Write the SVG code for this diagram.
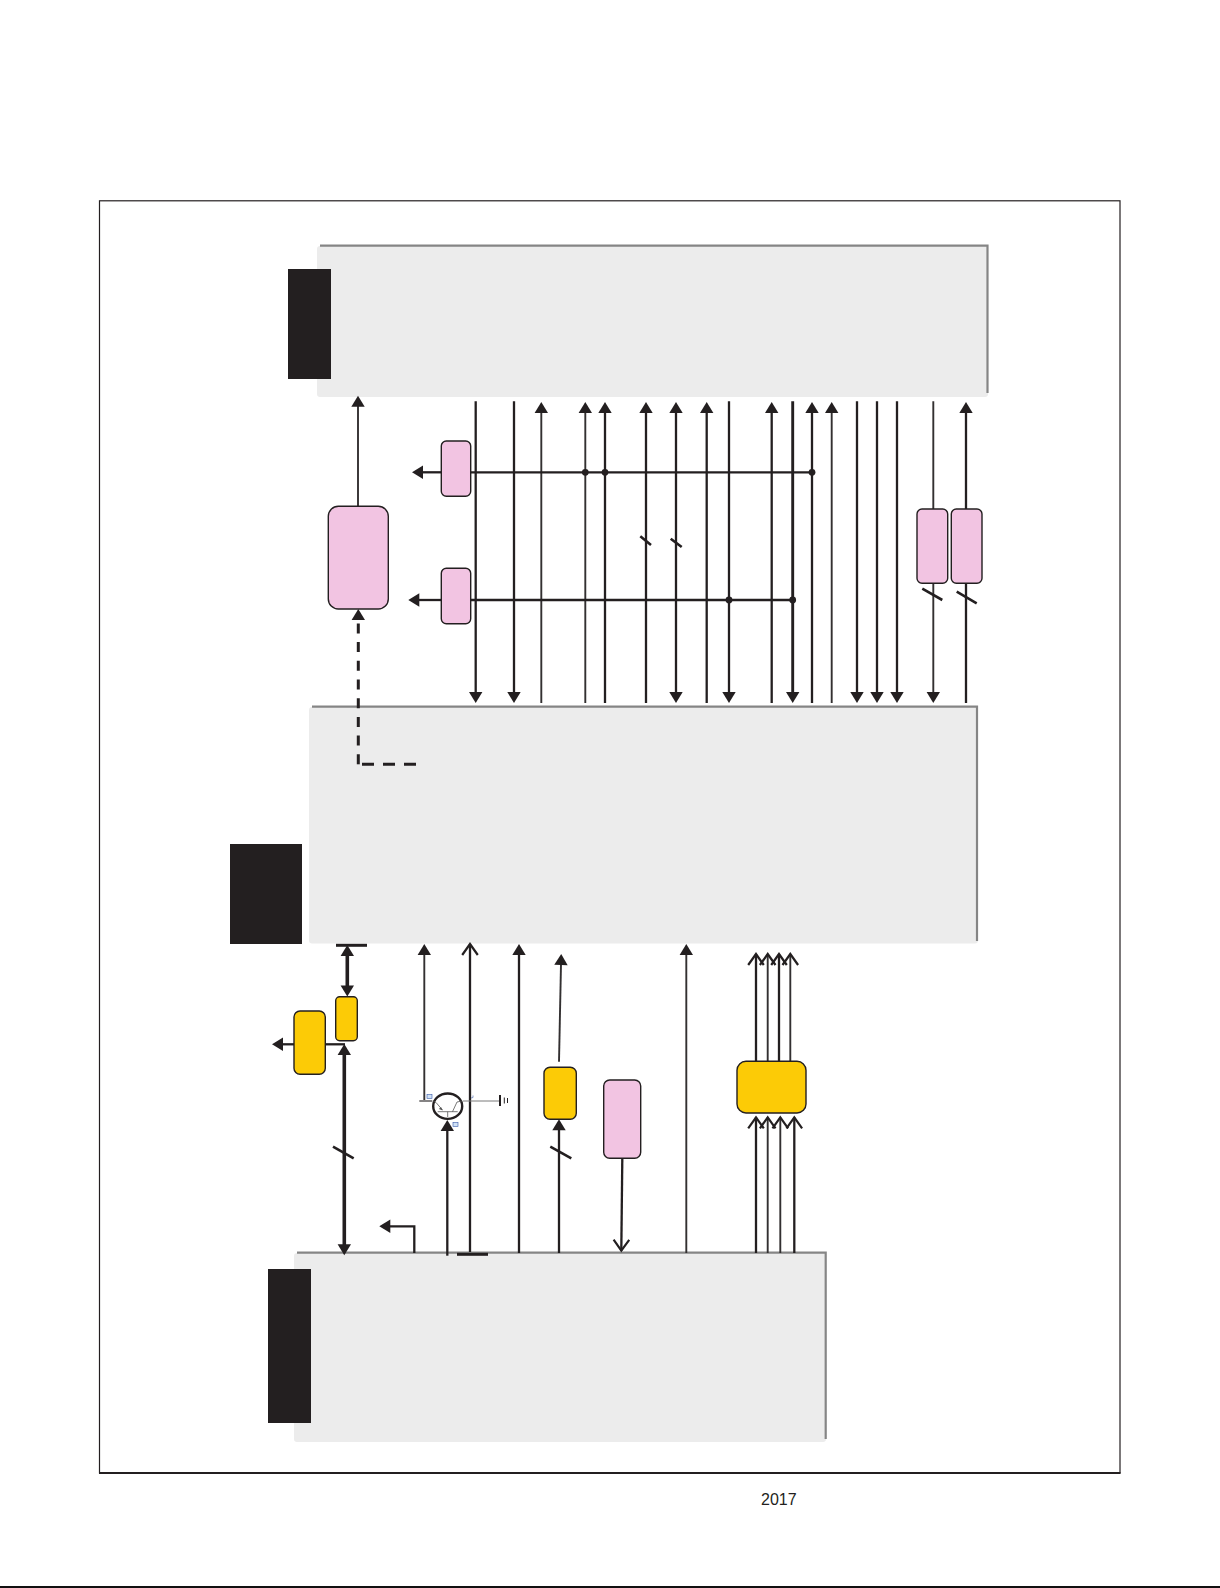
<svg xmlns="http://www.w3.org/2000/svg" width="1220" height="1588" viewBox="0 0 1220 1588">
<style>
.panel{fill:#ececec}
.edge{stroke:#858585;stroke-width:2.200;fill:none}
.tab{fill:#231f20}
.pink{fill:#f2c4e2;stroke:#231f20;stroke-width:1.400}
.amber{fill:#fccb06;stroke:#231f20;stroke-width:1.400}
.w{stroke:#231f20;stroke-width:2.300;fill:none}
.t{stroke:#333031;stroke-width:1.900;fill:none}
.b{stroke:#231f20;stroke-width:3.600;fill:none}
.s{stroke:#231f20;stroke-width:2.600;fill:none}
.up{marker-start:url(#tri-rev)}
.end{marker-end:url(#tri)}
.open{marker-end:url(#chev)}
.dash{stroke:#231f20;stroke-width:3;fill:none}
.dot{fill:#231f20}
.pin{fill:#cfe0f5;stroke:#3a5aa8;stroke-width:.6}
</style>
<defs>
<marker id="tri" markerUnits="userSpaceOnUse" markerWidth="13" markerHeight="15" refX="1" refY="7" orient="auto" overflow="visible"><path d="M0 .3L11 7L0 13.700Z" fill="#231f20"/></marker>
<marker id="tri-rev" markerUnits="userSpaceOnUse" markerWidth="13" markerHeight="15" refX="1" refY="7" orient="auto-start-reverse" overflow="visible"><path d="M0 .3L11 7L0 13.700Z" fill="#231f20"/></marker>
<marker id="chev" markerUnits="userSpaceOnUse" markerWidth="14" markerHeight="18" refX="11" refY="8" orient="auto" overflow="visible"><path d="M0 .2L11 8L0 15.800" fill="none" stroke="#231f20" stroke-width="2.200"/></marker>
</defs>
<rect width="1220" height="1588" fill="#fff"/>
<rect id="frame" x="99.500" y="200.800" width="1020.500" height="1272" fill="none" stroke="#231f20" stroke-width="1.200"/>
<path id="frame-bottom" d="M99 1473H1120.500" stroke="#231f20" stroke-width="1.800"/>
<rect id="page-rule" x="0" y="1586" width="1220" height="2" fill="#111"/>
<g id="panel-top">
<rect class="panel" x="317" y="246" width="671" height="151" rx="3"/>
<path class="edge" d="M320 245.700H987.500V393"/>
<rect class="tab" x="288" y="269" width="43" height="110"/>
</g>
<g id="panel-middle">
<rect class="panel" x="309" y="707" width="669" height="236.500" rx="3"/>
<path class="edge" d="M312 706.700H977V941"/>
<rect class="tab" x="230" y="844" width="72" height="100"/>
</g>
<g id="panel-bottom">
<rect class="panel" x="294" y="1253" width="532" height="189" rx="3"/>
<path class="edge" d="M297 1252.700H825.700V1439"/>
<rect class="tab" x="268" y="1269" width="43" height="154"/>
</g>
<g id="connectors">
<path class="w end" d="M475.700 401.300V693"/>
<path class="w end" d="M514 401.300V693"/>
<path class="w end" d="M729 401.300V693"/>
<path class="w end" d="M792.700 401.300V693" style="stroke-width:2.900"/>
<path class="w end" d="M857 401.300V693"/>
<path class="w end" d="M877 401.300V693"/>
<path class="w end" d="M897 401.300V693"/>
<path class="t end" d="M933.300 401.300V693"/>
<path class="t end" d="M541.300 703V412"/>
<path class="t end" d="M585.300 703V412"/>
<path class="w end" d="M605 703V412"/>
<path class="w end" d="M646 703V412"/>
<path class="w end up" d="M676 693V412"/>
<path class="w end" d="M706.700 703V412"/>
<path class="w end" d="M771.700 703V412"/>
<path class="w end" d="M812 703V412"/>
<path class="t end" d="M831.700 703V412"/>
<path class="w end" d="M966 703V412"/>
<path class="w end" d="M441 472.300H422"/>
<path class="w" d="M470.700 472.300H812"/>
<path class="w end" d="M441 600H418.300"/>
<path class="w" d="M470.700 600H792.700"/>
<circle class="dot" cx="585.300" cy="472.300" r="3.400"/>
<circle class="dot" cx="605" cy="472.300" r="3.400"/>
<circle class="dot" cx="812" cy="472.300" r="3.400"/>
<circle class="dot" cx="729" cy="600" r="3.400"/>
<circle class="dot" cx="792.700" cy="600" r="3.400"/>
<path class="s" d="M640.300 536.300L651 545M670.700 538.700L681.700 547M922.300 588.700L942.300 600M956.700 591.700L976.700 603.300"/>
<path class="t end" d="M358 506.500V405.700"/>
<path class="dash" d="M358.300 764.300V619" stroke-dasharray="10 8.700"/>
<path class="t end" d="M358.300 620V619"/>
<path class="dash" d="M362 764.300H416.700" stroke-dasharray="12 9"/>
<path class="b" d="M336 945.300H367" style="stroke-width:3"/>
<path class="b end up" d="M347.300 955V986.500"/>
<path class="w end" d="M294 1044.300H282"/>
<path class="w" d="M325 1044.300H345"/>
<path class="b end up" d="M344.300 1054V1245.300"/>
<path class="s" d="M333 1146.700L353.700 1158.300"/>
<path class="w end" d="M414.300 1253V1226.300H389.300"/>
<path class="t end" d="M424.300 1100V954"/>
<path class="t" d="M419.300 1101H432.300" style="stroke-width:1.200"/>
<path class="w end" d="M447.300 1255.700V1130"/>
<path class="w open" d="M470 1252V944"/>
<path class="b" d="M457 1254.300H488" style="stroke-width:3"/>
<path class="w end" d="M519 1253V954"/>
<path class="t end" d="M559 1061.700L561 964"/>
<path class="w end" d="M559 1253V1129.300"/>
<path class="s" d="M550.300 1146.700L571.300 1158.300"/>
<path class="w open" d="M622.300 1158.300L621.300 1250.700"/>
<path class="t end" d="M686.300 1253V954"/>
<path class="w open" d="M756 1061V954"/>
<path class="t open" d="M767.700 1061V954"/>
<path class="w open" d="M779 1061V954"/>
<path class="t open" d="M790.300 1061V954"/>
<path class="w open" d="M756 1253V1117.300"/>
<path class="t open" d="M767.700 1253V1117.300"/>
<path class="t open" d="M780.300 1253V1117.300"/>
<path class="w open" d="M794.300 1253V1117.300"/>
</g>
<g id="node-buffer-a"><rect class="pink" x="441.300" y="441" width="29.400" height="55.300" rx="5"/></g>
<g id="node-buffer-b"><rect class="pink" x="441.300" y="568.300" width="29.400" height="55.400" rx="5"/></g>
<g id="node-regulator"><rect class="pink" x="328.300" y="506.300" width="60" height="102.700" rx="10"/></g>
<g id="node-right-a"><rect class="pink" x="917" y="509" width="30.700" height="74.300" rx="5"/></g>
<g id="node-right-b"><rect class="pink" x="951.300" y="509" width="30.700" height="74.300" rx="5"/></g>
<g id="node-amber-small"><rect class="amber" x="335.700" y="996.700" width="21.600" height="44" rx="4"/></g>
<g id="node-amber-left"><rect class="amber" x="294" y="1011" width="31.300" height="63.300" rx="6"/></g>
<g id="node-amber-mid"><rect class="amber" x="544" y="1067.300" width="32.300" height="52" rx="6"/></g>
<g id="node-pink-mid"><rect class="pink" x="603.700" y="1080" width="37" height="78.300" rx="6"/></g>
<g id="node-converter"><rect class="amber" x="737" y="1061.300" width="69" height="51.700" rx="9"/></g>
<g id="node-transistor">
<ellipse cx="447.700" cy="1106.200" rx="14.500" ry="12.700" fill="#fff" stroke="#231f20" stroke-width="2.400"/>
<path d="M437.700 1111.700H457.700M447.700 1111.700V1117M433 1101L436 1102.500L442.500 1110M462 1101L457 1102L452.500 1111.700" fill="none" stroke="#555" stroke-width=".8"/>
<path d="M442.700 1110.500L438.900 1108.900L441 1106.900Z" fill="#555"/>
<path d="M463 1101H499" stroke="#7a7a7a" stroke-width="1"/>
<path d="M500 1095V1106" stroke="#231f20" stroke-width="2"/>
<path d="M504.300 1097.500V1103.500M507.500 1098V1103" stroke="#231f20" stroke-width="1"/>
<rect class="pin" x="427" y="1094.500" width="5" height="4"/>
<rect class="pin" x="453" y="1122.500" width="5" height="4"/>
<path d="M473 1095.500V1097.500L471 1098" fill="none" stroke="#3a5aa8" stroke-width=".6"/>
</g>
<text id="footer-year" x="761" y="1504.800" font-family="'Liberation Sans',Arial,sans-serif" font-size="16" fill="#231f20">2017</text>
</svg>
